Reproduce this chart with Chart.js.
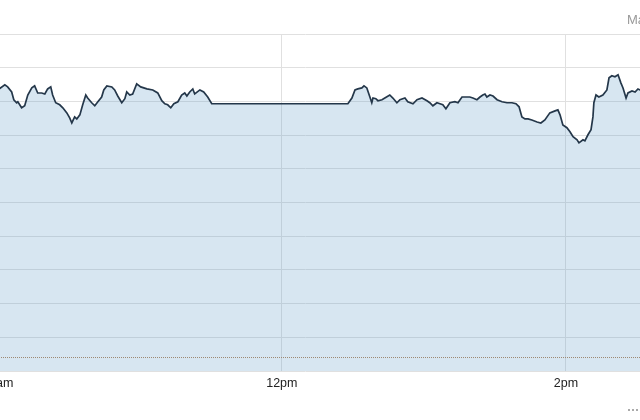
<!DOCTYPE html>
<html>
<head>
<meta charset="utf-8">
<script src="https://cdn.jsdelivr.net/npm/chart.js@4/dist/chart.umd.min.js"></script>
<style>
  html, body { margin: 0; padding: 0; background: #fff; width: 640px; height: 420px; overflow: hidden; position: relative; }
  #wrap { position: absolute; left: -97px; top: 0; width: 805px; height: 420px; }
  #range { position: absolute; left: 627px; top: 12px; font: 13px "Liberation Sans", Arial, sans-serif; color: #999; white-space: nowrap; }
  #prev { position: absolute; left: 628px; top: 402px; font: 12px "Liberation Sans", Arial, sans-serif; color: #666; white-space: nowrap; }
  #prev i { display: inline-block; width: 22px; border-top: 2px dotted #aaa; vertical-align: middle; margin-right: 4px; }
</style>
</head>
<body>
<div id="wrap"><canvas id="chart_intraday" width="805" height="420"></canvas></div>
<div id="range">Max</div>
<div id="prev"><i></i>Previous close</div>
<script>
// minutes since midnight
const times = [
  600.0, 603.0, 604.2, 605.9, 606.8, 608.0, 608.5, 610.1, 611.4, 612.7,
  614.4, 615.6, 616.9, 618.6, 619.9, 621.1, 622.4, 623.2, 624.5, 626.2,
  627.5, 629.2, 630.4, 631.3, 632.5, 633.4, 634.7, 635.9, 637.2, 638.0,
  639.7, 641.0, 642.3, 643.9, 644.8, 646.1, 648.2, 649.4, 650.7, 652.4,
  653.7, 654.5, 655.8, 657.0, 658.7, 660.4, 663.0, 665.5, 667.6, 669.3,
  670.6, 671.8, 673.1, 674.4, 676.1, 677.7, 679.0, 679.9, 681.1, 682.4,
  683.2, 685.4, 687.0, 688.7, 690.4,
  747.9, 749.6, 750.9, 752.1, 753.8, 754.7, 755.9, 757.2, 758.0, 758.5,
  759.7, 760.6, 762.3, 763.5, 765.6, 766.9, 768.6, 769.9, 772.0, 773.2,
  775.4, 777.1, 779.2, 781.3, 782.5, 783.8, 785.5, 786.8, 788.0, 789.3,
  791.0, 793.1, 794.4, 796.1, 797.3, 799.4, 800.7, 802.4, 803.7, 804.9,
  805.8, 806.6, 807.9, 809.2, 810.9, 813.0, 815.1, 817.2, 818.9, 820.2,
  821.4, 822.7, 824.0, 825.6, 827.8, 829.4, 831.1, 833.2, 835.4, 836.6,
  837.5, 838.7, 840.4, 841.7, 843.0, 844.7, 845.5, 847.2, 848.0, 849.3,
  850.6, 851.4, 851.8, 852.7, 853.9, 855.6, 857.3, 858.2, 859.4, 860.7,
  862.0, 863.2, 864.1, 865.4, 866.2, 867.9, 869.2, 870.4, 871.3, 873.0
];
const prices = [
  83.4, 84.9, 84.3, 82.8, 80.5, 79.6, 79.9, 78.1, 78.7, 81.9,
  84.0, 84.6, 82.5, 82.5, 82.2, 83.7, 84.3, 81.9, 79.6, 79.0,
  78.1, 76.6, 75.1, 73.6, 75.4, 74.8, 76.0, 79.0, 81.9, 81.0,
  79.6, 78.7, 79.9, 81.3, 83.4, 84.6, 84.3, 83.4, 81.6, 79.6,
  80.8, 82.8, 81.9, 82.2, 85.2, 84.3, 83.7, 83.4, 82.5, 80.2,
  79.3, 79.0, 78.1, 79.3, 79.9, 81.9, 82.5, 81.6, 82.8, 83.7,
  82.2, 83.4, 82.8, 81.3, 79.3,
  79.3, 81.0, 83.4, 83.7, 84.0, 84.6, 84.0, 81.3, 79.6, 81.0,
  80.8, 80.2, 80.5, 81.0, 81.9, 81.0, 79.6, 80.5, 81.0, 79.9,
  79.3, 80.5, 81.0, 80.2, 79.6, 78.7, 79.6, 79.3, 79.0, 77.8,
  79.6, 79.9, 79.6, 81.3, 81.3, 81.3, 81.0, 80.5, 81.3, 81.9,
  82.2, 81.3, 81.9, 81.6, 80.5, 79.9, 79.6, 79.6, 79.3, 78.4,
  75.4, 74.8, 74.8, 74.5, 73.9, 73.6, 74.5, 76.6, 77.2, 77.5,
  76.0, 73.0, 72.2, 71.0, 69.5, 68.6, 67.7, 68.6, 68.3, 70.1,
  71.6, 75.4, 79.6, 81.9, 81.3, 81.9, 83.4, 87.0, 87.6, 87.3,
  87.9, 85.5, 84.0, 81.0, 82.5, 83.1, 82.8, 83.7, 83.4, 83.6
];
const prevClose = 4.0;
const xMin = 560, xMax = 900;
const yMin = 0, yMax = 100;

function hourLabel(v) {
  const h = Math.round(v / 60);
  return (h % 12 || 12) + (h < 12 ? 'am' : 'pm');
}

const ctx = document.getElementById('chart_intraday').getContext('2d');
const chart = new Chart(ctx, {
  type: 'line',
  data: {
    datasets: [{
      label: 'Price',
      data: times.map((t, i) => ({ x: t, y: prices[i] })),
      borderColor: '#24374a',
      borderWidth: 1.7,
      backgroundColor: 'rgba(110,165,205,0.28)',
      fill: 'origin',
      pointRadius: 0,
      tension: 0
    }, {
      label: 'Previous close',
      data: [{ x: xMin, y: prevClose }, { x: xMax, y: prevClose }],
      borderColor: 'rgba(175,125,80,1)',
      borderWidth: 1,
      borderDash: [1, 1],
      fill: false,
      pointRadius: 0
    }]
  },
  options: {
    responsive: false,
    devicePixelRatio: 1,
    animation: false,
    layout: { padding: { top: 34, bottom: 24, left: 0, right: 0 } },
    plugins: { legend: { display: false }, tooltip: { enabled: false } },
    scales: {
      x: {
        type: 'linear',
        min: xMin,
        max: xMax,
        border: { display: false },
        grid: { color: '#e0e0e0', drawTicks: false },
        ticks: {
          stepSize: 120,
          includeBounds: false,
          autoSkip: false,
          maxRotation: 0,
          padding: 5,
          color: '#222',
          font: { family: '"Liberation Sans", Arial, sans-serif', size: 12.5 },
          callback: hourLabel
        }
      },
      y: {
        min: yMin,
        max: yMax,
        border: { display: false },
        grid: { color: '#e0e0e0', drawTicks: false },
        ticks: { stepSize: 10, display: false }
      }
    }
  }
});
</script>
</body>
</html>
